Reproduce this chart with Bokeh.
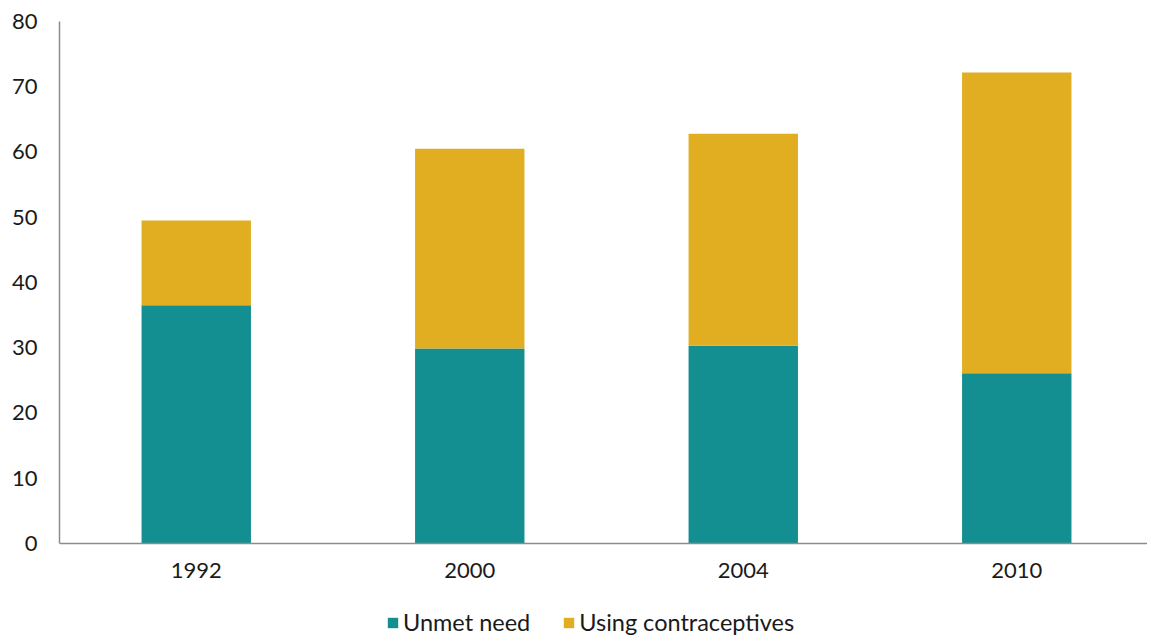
from bokeh.plotting import figure
from bokeh.models import Range1d, FixedTicker, ColumnDataSource, Legend, LegendItem
from bokeh.embed import file_html
from bokeh.resources import INLINE

years = ["1992", "2000", "2004", "2010"]
unmet_need = [36.5, 29.9, 30.3, 26.1]
using_contraceptives = [13.0, 30.6, 32.5, 46.1]

TEAL = "#148F91"
GOLD = "#E0AE20"
FONT = "Lato"

xs = [i + 0.5 for i in range(len(years))]
tops2 = [a + b for a, b in zip(unmet_need, using_contraceptives)]
src = ColumnDataSource(dict(x=xs, unmet=unmet_need, total=tops2))

# frame extends below the x axis so the legend can sit inside it
p = figure(frame_width=1088, frame_height=620, output_backend="svg", toolbar_location=None,
           x_range=Range1d(0, 3.978), y_range=Range1d(-15.02, 80))
p.min_border_left = 59
p.min_border_right = 0
p.min_border_top = 21
p.min_border_bottom = 0
p.outline_line_color = None
p.grid.visible = False
p.background_fill_color = "white"

r1 = p.vbar(x="x", width=0.4, bottom=0, top="unmet", source=src, fill_color=TEAL, line_color=None)
r2 = p.vbar(x="x", width=0.4, bottom="unmet", top="total", source=src, fill_color=GOLD, line_color=None)

for ax in (p.xaxis[0], p.yaxis[0]):
    ax.axis_line_color = "#8C8C8C"
    ax.axis_line_width = 1.5
    ax.major_tick_line_color = None
    ax.minor_tick_line_color = None
    ax.major_tick_out = 0
    ax.major_tick_in = 0
    ax.major_label_text_font = FONT
    ax.major_label_text_font_size = "22px"
    ax.major_label_text_color = "#1a1a1a"

p.xaxis.fixed_location = 0
p.xaxis.ticker = FixedTicker(ticks=xs)
p.xaxis.major_label_overrides = {x: y for x, y in zip(xs, years)}
p.xaxis.major_label_standoff = 20
p.yaxis.ticker = FixedTicker(ticks=list(range(0, 81, 10)))
p.yaxis.bounds = (0, 80)
p.yaxis.major_label_standoff = 22

legend = Legend(items=[LegendItem(label="Unmet need", renderers=[r1]),
                       LegendItem(label="Using contraceptives", renderers=[r2])],
                orientation="horizontal", location=(327, 5))
legend.label_text_font = FONT
legend.label_text_font_size = "23.5px"
legend.label_text_color = "#1a1a1a"
legend.label_height = 20
legend.glyph_width = 13
legend.glyph_height = 13
legend.label_standoff = 4
legend.spacing = 32
legend.padding = 0
legend.margin = 0
legend.border_line_color = None
legend.background_fill_alpha = 0
p.add_layout(legend, "center")

open("out.html", "w").write(file_html(p, INLINE))
